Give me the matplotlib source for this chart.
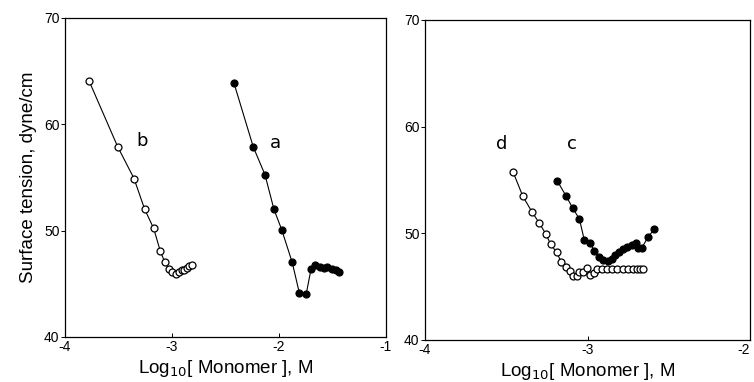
"""
Surface tension vs log monomer concentration, two panels
"""
import matplotlib.pyplot as plt
import numpy as np

# panel 1, curve a (filled) and b (open)
xA = [-2.42, -2.24, -2.131, -2.047, -1.975, -1.876, -1.81, -1.745, -1.70,
      -1.664, -1.617, -1.579, -1.548, -1.508, -1.47, -1.44]
yA = [63.85, 57.86, 55.26, 52.0, 50.1, 47.0, 44.15, 44.06, 46.4,
      46.8, 46.6, 46.5, 46.6, 46.43, 46.3, 46.15]
xB = [-3.776, -3.508, -3.355, -3.255, -3.171, -3.109, -3.068, -3.028, -2.997,
      -2.966, -2.935, -2.91, -2.885, -2.863, -2.838, -2.81]
yB = [64.1, 57.9, 54.9, 52.0, 50.2, 48.06, 47.06, 46.4, 46.1,
      45.93, 46.15, 46.3, 46.27, 46.5, 46.65, 46.75]

# panel 2, curve c (filled) and d (open)
xC = [-3.186, -3.132, -3.091, -3.05, -3.02, -2.985, -2.958, -2.927, -2.903,
      -2.872, -2.851, -2.831, -2.806, -2.78, -2.755, -2.728, -2.702, -2.687,
      -2.667, -2.626, -2.589]
yC = [54.9, 53.5, 52.35, 51.35, 49.38, 49.07, 48.38, 47.76, 47.5,
      47.44, 47.57, 47.97, 48.28, 48.5, 48.7, 48.91, 49.13, 48.66,
      48.6, 49.69, 50.38]
xD = [-3.457, -3.399, -3.343, -3.296, -3.257, -3.227, -3.19, -3.163, -3.134,
      -3.108, -3.087, -3.067, -3.05, -3.026, -3.001, -2.985, -2.96, -2.94,
      -2.913, -2.882, -2.851, -2.82, -2.783, -2.749, -2.722, -2.697, -2.677,
      -2.657]
yD = [55.7, 53.5, 52.03, 50.94, 49.94, 48.98, 48.2, 47.35, 46.88,
      46.5, 46.0, 46.0, 46.41, 46.41, 46.73, 46.1, 46.32, 46.63,
      46.66, 46.66, 46.66, 46.63, 46.63, 46.63, 46.63, 46.63, 46.63,
      46.66]

yTicks = [40, 50, 60, 70]
xTicks1 = [-4, -3, -2, -1]
xTicks2 = [-4, -3, -2]

plt.rcParams['font.family'] = ['Liberation Sans', 'DejaVu Sans']


def curve(ax, x, y, filled):
    face = "black" if filled else "white"
    ax.plot(x, y, color="black", lw=0.8, zorder=1)
    ax.plot(x, y, ls="none", marker="o", ms=5, mfc=face, mec="black",
            mew=0.9, zorder=2)


def style(ax, xlim, xticks):
    ax.set_xlim(xlim)
    ax.set_ylim(40, 70)
    ax.set_xticks(xticks)
    ax.set_yticks(yTicks)
    ax.set_xticklabels([str(t) for t in xticks])
    ax.tick_params(axis="x", direction="in", length=3, width=0.7,
                   labelsize=10, pad=2)
    ax.tick_params(axis="y", direction="out", length=3, width=0.7,
                   labelsize=10, pad=1)
    for s in ax.spines.values():
        s.set_linewidth(0.9)
    ax.set_xlabel("Log$_{10}$[ Monomer ], M", fontsize=13.5, labelpad=3)


fig = plt.figure(figsize=(7.54, 3.82), dpi=100)
ax1 = fig.add_axes([0.0862, 0.118, 0.4257, 0.835])
ax2 = fig.add_axes([0.5637, 0.110, 0.431, 0.838])

curve(ax1, xB, yB, False)
curve(ax1, xA, yA, True)
curve(ax2, xD, yD, False)
curve(ax2, xC, yC, True)

style(ax1, (-4, -1), xTicks1)
style(ax2, (-4, -2), xTicks2)
# last label sits at the figure edge, keep it inside
ax2.get_xticklabels()[-1].set_horizontalalignment("right")
ax1.set_ylabel("Surface tension, dyne/cm", fontsize=13.5, labelpad=5)

lbl = dict(fontsize=13, family="DejaVu Sans", ha="center", va="center")
ax1.text(-3.283, 58.4, "b", **lbl)
ax1.text(-2.037, 58.2, "a", **lbl)
ax2.text(-3.528, 58.4, "d", **lbl)
ax2.text(-3.097, 58.4, "c", **lbl)

plt.savefig("out.png", dpi=100)
